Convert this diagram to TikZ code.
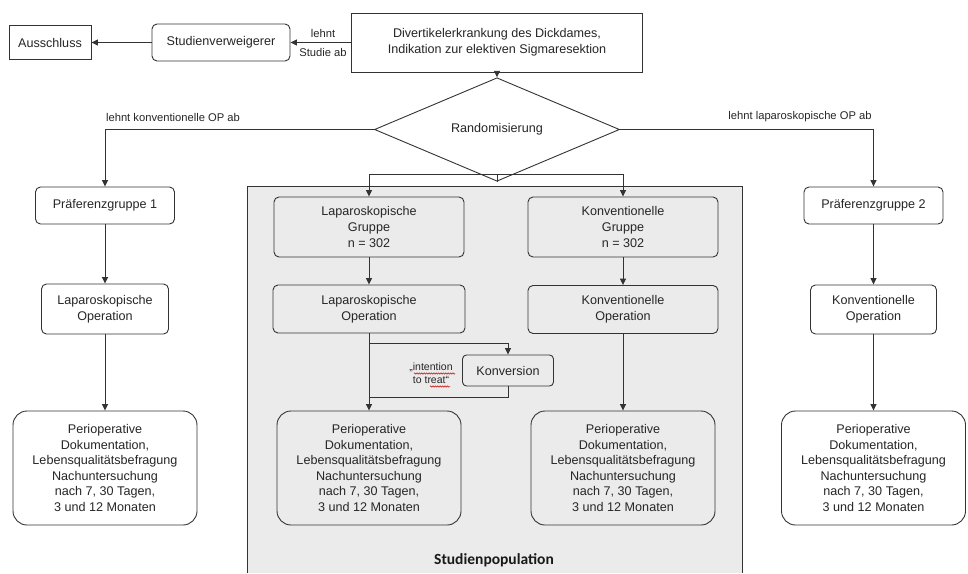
\documentclass[tikz,border=0pt]{standalone}
\usepackage{fontspec}
\setmainfont{Liberation Sans}
\newfontfamily\calfont{Carlito}
\usetikzlibrary{shapes.geometric,arrows.meta,decorations.pathmorphing}
\definecolor{popgray}{HTML}{EBEBEB}
\definecolor{linegray}{HTML}{333333}
\begin{document}
\begin{tikzpicture}[x=1pt,y=-1pt,
  every node/.style={font=\fontsize{12.6}{15.6}\selectfont, text=black!85},
  box/.style={draw=linegray, line width=0.9pt, fill=white, align=center, inner sep=2pt},
  sbox/.style={box, rounded corners=5pt},
  gbox/.style={sbox, fill=popgray},
  pbox/.style={box, rounded corners=14pt, minimum width=184pt, minimum height=114pt},
  lbl/.style={font=\fontsize{11.2}{12}\selectfont, inner sep=0pt, align=center},
  ln/.style={draw=linegray, line width=0.9pt},
  arr/.style={ln, -{Triangle[length=6.5pt,width=6pt]}},
  squig/.style={draw=red!80!black, line width=0.5pt, decorate, decoration={zigzag, amplitude=0.7pt, segment length=2.4pt}},
]
\useasboundingbox (0,0) rectangle (968,573);

% study population background
\fill[popgray] (247,186) rectangle (742,573);
\draw[ln] (247,573) -- (247,186) -- (742,186) -- (742,573);
\node[font=\calfont\bfseries\fontsize{15.5}{18}\selectfont, text=black!90] (pop) at (494,560) {Studienpopulation};

% top row
\node[box, minimum width=82pt, minimum height=34pt] (aus) at (50,42.5) {Ausschluss};
\node[sbox, minimum width=138pt, minimum height=37pt] (stv) at (221,42.5) {Studienverweigerer};
\node[box, minimum width=291pt, minimum height=59pt] (main) at (497,42.5) {Divertikelerkrankung des Dickdames,\\Indikation zur elektiven Sigmaresektion};
\node[lbl] (l1) at (323,33) {lehnt};
\node[lbl] (l2) at (323,52) {Studie ab};

% randomisation
\node[draw=linegray, line width=0.9pt, fill=white, shape=diamond, inner sep=0pt, minimum width=245pt, minimum height=45pt] (rand) at (497,129.5) {Randomisierung};
\node[lbl] (lk) at (173,117) {lehnt konventionelle OP ab};
\node[lbl] (ll) at (800,117) {lehnt laparoskopische OP ab};

% left column
\node[sbox, minimum width=139pt, minimum height=37pt] (pg1) at (105,205.5) {Präferenzgruppe 1};
\node[sbox, minimum width=127pt, minimum height=50pt] (lapL) at (105,309) {Laparoskopische\\Operation};
\node[pbox] (perioL) at (105,468) {Perioperative\\Dokumentation,\\Lebensqualitätsbefragung\\Nachuntersuchung\\nach 7, 30 Tagen,\\3 und 12 Monaten};

% right column
\node[sbox, minimum width=139pt, minimum height=37pt] (pg2) at (873.5,205.5) {Präferenzgruppe 2};
\node[sbox, minimum width=126pt, minimum height=49pt] (konvR) at (873.5,309.5) {Konventionelle\\Operation};
\node[pbox] (perioR) at (873.5,468) {Perioperative\\Dokumentation,\\Lebensqualitätsbefragung\\Nachuntersuchung\\nach 7, 30 Tagen,\\3 und 12 Monaten};

% randomised groups
\node[gbox, minimum width=190pt, minimum height=60pt] (lapG) at (369,227) {Laparoskopische\\Gruppe\\n = 302};
\node[gbox, minimum width=190pt, minimum height=60pt] (konvG) at (623,227) {Konventionelle\\Gruppe\\n = 302};
\node[gbox, minimum width=192pt, minimum height=48pt] (lapOp) at (369,309) {Laparoskopische\\Operation};
\node[gbox, minimum width=190pt, minimum height=48pt] (konvOp) at (623,309.5) {Konventionelle\\Operation};
\node[pbox, fill=popgray] (perioLap) at (369,468) {Perioperative\\Dokumentation,\\Lebensqualitätsbefragung\\Nachuntersuchung\\nach 7, 30 Tagen,\\3 und 12 Monaten};
\node[pbox, fill=popgray] (perioKonv) at (623,468) {Perioperative\\Dokumentation,\\Lebensqualitätsbefragung\\Nachuntersuchung\\nach 7, 30 Tagen,\\3 und 12 Monaten};
\node[gbox, rounded corners=4pt, minimum width=91pt, minimum height=31pt] (konv) at (508,370.5) {Konversion};
\node[lbl, font=\fontsize{10.5}{12}\selectfont] (itt1) at (431,367) {„intention};
\node[lbl, font=\fontsize{10.5}{12}\selectfont] (itt2) at (431,380) {to treat“};
\draw[squig] (414,373.5) -- (455,373.5);
\draw[squig] (430,386.5) -- (450,386.5);

% connectors
\draw[arr] (main.west) -- (stv.east);
\draw[arr] (stv.west) -- (aus.east);
\draw[arr] (main.south) -- (rand.north);
\draw[arr] (rand.west) -| (pg1.north);
\draw[arr] (rand.east) -| (pg2.north);
\coordinate (split) at (497,174);
\draw[ln] (rand.south) -- (split);
\draw[arr] (split) -| (lapG.north);
\draw[arr] (split) -| (konvG.north);
\draw[arr] (pg1) -- (lapL);
\draw[arr] (lapL) -- (perioL);
\draw[arr] (pg2) -- (konvR);
\draw[arr] (konvR) -- (perioR);
\draw[arr] (lapG) -- (lapOp);
\draw[arr] (konvG) -- (konvOp);
\draw[arr] (konvOp) -- (perioKonv);
\draw[arr] (lapOp) -- (perioLap);
\coordinate (br) at (369,343);
\coordinate (jn) at (369,397);
\draw[arr] (br) -| (konv.north);
\draw[ln] (konv.south) |- (jn);
\end{tikzpicture}
\end{document}
